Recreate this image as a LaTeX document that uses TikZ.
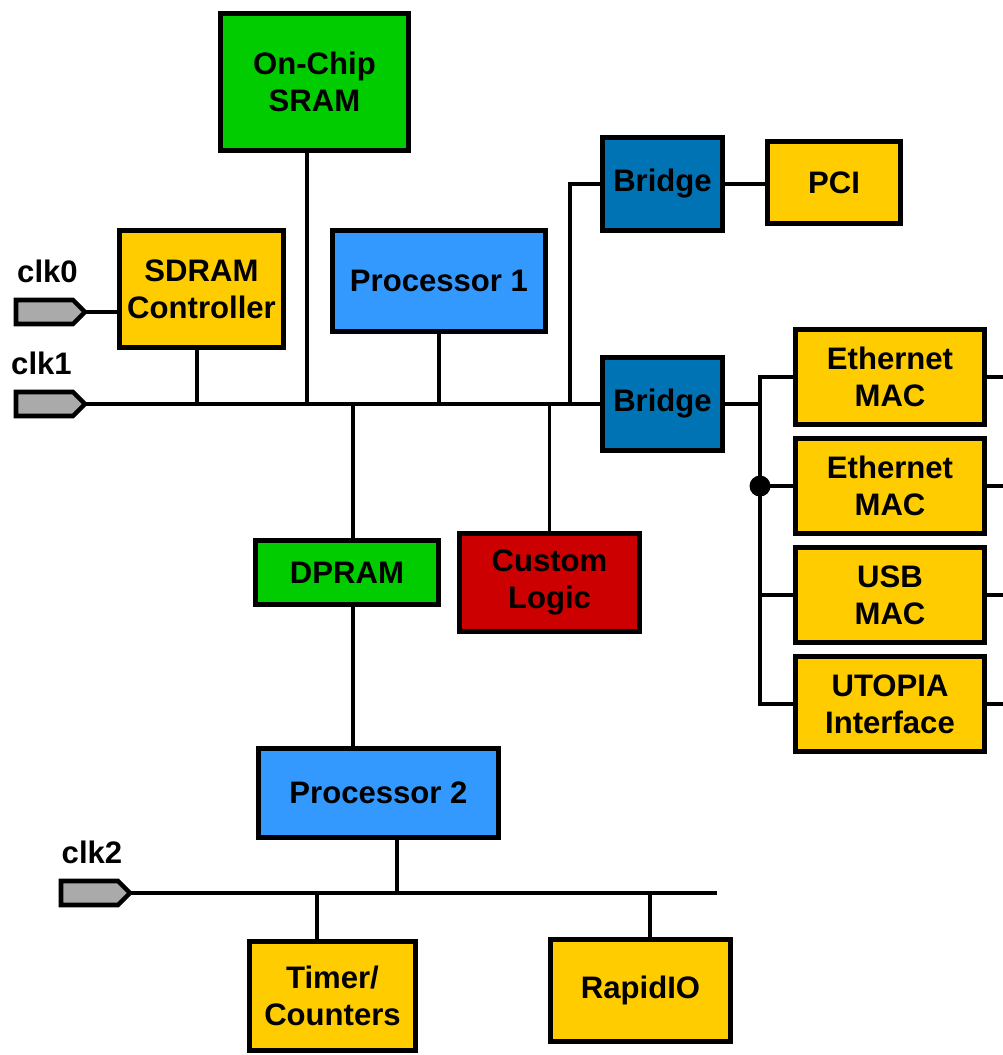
\documentclass[tikz,border=0pt]{standalone}
\usepackage{fontspec}
\setmainfont{Liberation Sans}
\usetikzlibrary{positioning, shapes.symbols, calc}

\definecolor{memgreen}{RGB}{0,204,0}
\definecolor{ioyellow}{RGB}{255,204,0}
\definecolor{cpublue}{RGB}{51,153,255}
\definecolor{bridgeblue}{RGB}{0,115,180}
\definecolor{logicred}{RGB}{204,0,0}
\definecolor{portgray}{RGB}{170,170,170}

\begin{document}
\begin{tikzpicture}[
    x=0.02cm, y=-0.02cm,
    font=\fontsize{17.7}{21}\selectfont\bfseries,
    blk/.style={
        rectangle, draw=black, line width=2.6pt,
        align=center, inner sep=2pt,
    },
    mem/.style={blk, fill=memgreen},
    io/.style={blk, fill=ioyellow},
    cpu/.style={blk, fill=cpublue},
    bridge/.style={blk, fill=bridgeblue, minimum width=2.4cm, minimum height=1.86cm},
    mac/.style={io, minimum width=3.78cm, minimum height=1.9cm},
    logic/.style={blk, fill=logicred},
    clkport/.style={
        signal, signal to=east, signal pointer angle=90,
        draw=black, line width=2.6pt, fill=portgray,
        minimum width=1.38cm, minimum height=0.48cm,
        inner sep=0pt, outer sep=0pt, anchor=east,
    },
    clklabel/.style={inner sep=0pt},
    wire/.style={line width=2.2pt},
    dot/.style={circle, fill=black, minimum size=0.42cm, inner sep=0pt},
]
\useasboundingbox (0,0) rectangle (1003,1055);

% --- Clock inputs ---
\node[clkport] (clk0) at (85,312) {};
\node[clkport] (clk1) at (85,404) {};
\node[clkport] (clk2) at (130,893) {};
\node[clklabel, above=0.34cm of clk0, xshift=0.06cm] (lclk0) {clk0};
\node[clklabel, above=0.34cm of clk1, xshift=-0.06cm] (lclk1) {clk1};
\node[clklabel, above=0.34cm of clk2, xshift=0.05cm] (lclk2) {clk2};

% --- Upper subsystem ---
\node[mem, minimum width=3.76cm, minimum height=2.74cm] (sram) at (314.5,82) {On-Chip\\SRAM};
\node[io, minimum width=3.28cm, minimum height=2.34cm] (sdram) at (201.5,289) {SDRAM\\Controller};
\node[cpu, minimum width=4.26cm, minimum height=2.02cm] (proc1) at (439,281) {Processor 1};
\node[bridge] (bridgeA) at (662.5,184) {Bridge};
\node[bridge] (bridgeB) at (662.5,404) {Bridge};
\node[io, minimum width=2.66cm, minimum height=1.64cm] (pci) at (834,182.5) {PCI};
\node[mem, minimum width=3.66cm, minimum height=1.28cm] (dpram) at (347,572.5) {DPRAM};
\node[logic, minimum width=3.6cm, minimum height=1.96cm] (custom) at (549.5,582.5) {Custom\\Logic};

% --- Peripheral column behind the second bridge ---
\node[mac] (eth1) at (890,377) {Ethernet\\MAC};
\node[mac, below=0.19cm of eth1] (eth2) {Ethernet\\MAC};
\node[mac, below=0.19cm of eth2] (usb) {USB\\MAC};
\node[mac, below=0.19cm of usb] (utopia) {UTOPIA\\Interface};

% --- Lower subsystem ---
\node[cpu, minimum width=4.8cm, minimum height=1.78cm] (proc2) at (378.5,793) {Processor 2};
\node[io, minimum width=3.32cm, minimum height=2.18cm] (timer) at (332.5,996) {Timer/\\Counters};
\node[io, minimum width=3.6cm, minimum height=2.04cm] (rapid) at (640.5,990.5) {RapidIO};

% --- Bus ends and taps ---
\coordinate (riser) at (570,404);
\coordinate (spine) at (760,0);
\coordinate (edge) at (1003,0);
\coordinate (busend) at (717,893);

% --- clk1 bus ---
\draw[wire] (clk0.east) -- (clk0.east -| sdram.west);
\draw[wire] (clk1.east) -- (clk1.east -| bridgeB.west);
\draw[wire] ([xshift=-0.09cm]sdram.south) -- ([xshift=-0.09cm]sdram.south |- clk1.east);
\draw[wire] ([xshift=-0.15cm]sram.south) -- ([xshift=-0.15cm]sram.south |- clk1.east);
\draw[wire] (proc1.south) -- (proc1.south |- clk1.east);
\draw[wire] ([xshift=0.12cm]dpram.north) -- ([xshift=0.12cm]dpram.north |- clk1.east);
\draw[wire] (custom.north) -- (custom.north |- clk1.east);
\draw[wire] (riser) |- (bridgeA.west);
\draw[wire] (bridgeA.east) -- (bridgeA.east -| pci.west);

% --- Bridge to the MAC column ---
\draw[wire] (bridgeB.east) -- (bridgeB.east -| spine);
\draw[wire] (eth1.west) -- (eth1.west -| spine) -- (utopia.west -| spine) -- (utopia.west);
\foreach \m in {eth2, usb}{
    \draw[wire] (\m.west -| spine) -- (\m.west);
}
\foreach \m in {eth1, eth2, usb, utopia}{
    \draw[wire] (\m.east) -- (\m.east -| edge);
}
\node[dot] (junc) at (eth2.west -| spine) {};

% --- DPRAM down to the clk2 bus ---
\draw[wire] ([xshift=0.12cm]dpram.south) -- ([xshift=0.12cm]dpram.south |- proc2.north);
\draw[wire] ([xshift=0.37cm]proc2.south) -- ([xshift=0.37cm]proc2.south |- clk2.east);
\draw[wire] (clk2.east) -- (clk2.east -| busend);
\draw[wire] ([xshift=-0.31cm]timer.north) -- ([xshift=-0.31cm]timer.north |- clk2.east);
\draw[wire] ([xshift=0.19cm]rapid.north) -- ([xshift=0.19cm]rapid.north |- clk2.east);

\end{tikzpicture}
\end{document}
